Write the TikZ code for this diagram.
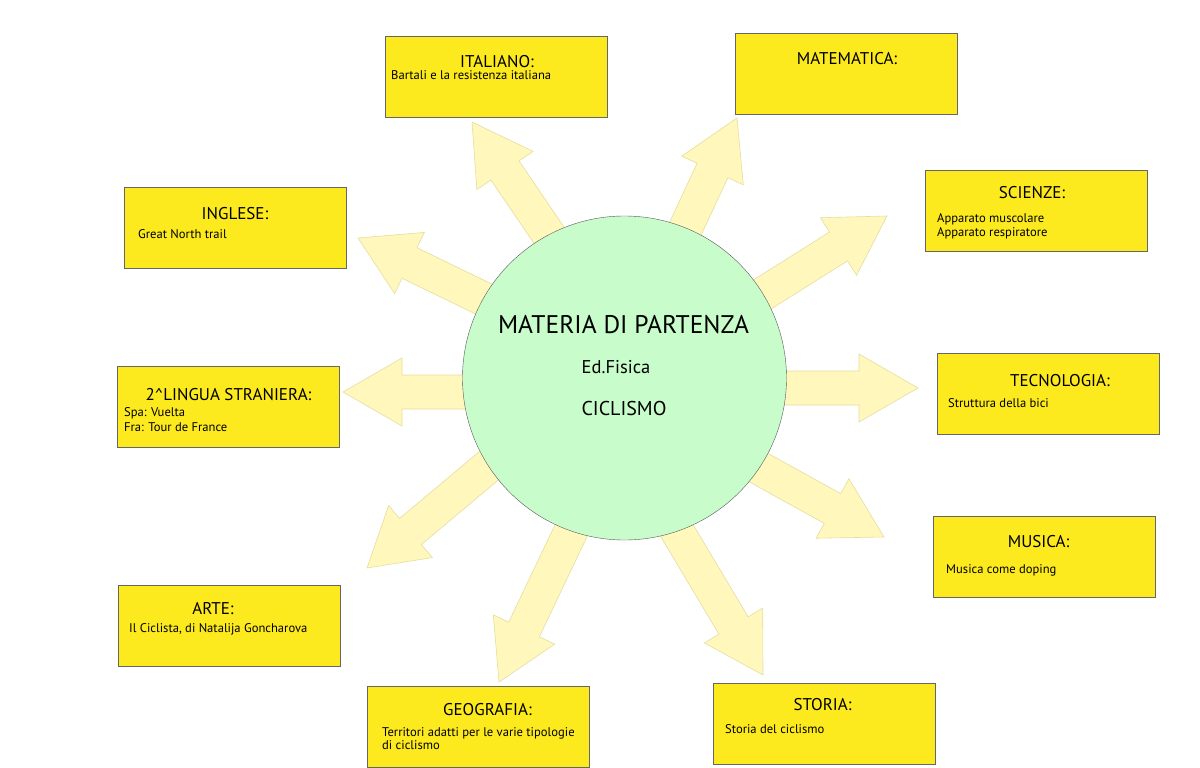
\documentclass[tikz,border=0pt]{standalone}
\usepackage{fontspec}
\setmainfont{PT Sans}
\usetikzlibrary{calc}
\definecolor{boxyellow}{RGB}{252,234,30}
\definecolor{rayfill}{RGB}{255,247,188}
\definecolor{rayline}{RGB}{228,222,160}
\definecolor{centregreen}{RGB}{200,252,202}
\tikzset{
  subjbox/.style={draw=black!60, fill=boxyellow, minimum width=222pt, minimum height=81pt, inner sep=0pt},
  subjtitle/.style={anchor=base, font=\fontsize{17}{17}\selectfont, inner sep=0pt, text depth=0pt},
  subjtext/.style={anchor=base west, font=\fontsize{12.6}{12.6}\selectfont, inner sep=0pt},
  ray/.style={fill=rayfill, draw=rayline, line width=0.6pt, line join=miter}
}
\begin{document}
\begin{tikzpicture}[x=1pt,y=-1pt]
    \useasboundingbox (0,0) rectangle (1200,768);
    % block arrows: tip x/y, head base x/y
    \foreach \tx/\ty/\bx/\by in {472/122/505/170.5, 737/118/712.5/170.5, 887/216/838.5/246.5,
        918/388/859/388, 884/537/832.5/508.5, 763/675/733.5/625.5, 499/682/524/629.5,
        367/568/410.5/531.5, 343/392/402/392, 358/238/409.5/263} {
      \coordinate (tip) at (\tx,\ty);
      \coordinate (hb) at (\bx,\by);
      \coordinate (st) at ($(hb)!-200pt!(tip)$);
      \draw[ray] ($(st)!17pt!90:(tip)$) -- ($(hb)!17pt!90:(tip)$) -- ($(hb)!34pt!90:(tip)$)
        -- (tip) -- ($(hb)!34pt!-90:(tip)$) -- ($(hb)!17pt!-90:(tip)$) -- ($(st)!17pt!-90:(tip)$) -- cycle;
    }
    % centre
    \node[circle, draw=black!65, fill=centregreen, minimum size=324pt, inner sep=0pt] (centre) at (624.5,378) {};
    \node[anchor=base, font=\fontsize{25.5}{25.5}\selectfont] (mat0) at (623.5,333) {MATERIA DI PARTENZA};
    \node[anchor=base, font=\fontsize{18.5}{18.5}\selectfont] (edf) at (616,373) {Ed.Fisica};
    \node[anchor=base, font=\fontsize{20}{20}\selectfont] (cic) at (624,415) {CICLISMO};
    % subjects
    \node[subjbox] (ita) at (496,77) {};
    \node[subjtitle] (itaT) at (497,67) {ITALIANO:};
    \node[subjtext] (itaA) at (391,80) {Bartali e la resistenza italiana};
    \node[subjbox] (mat) at (846.5,73.5) {};
    \node[subjtitle] (matT) at (847,65) {MATEMATICA:};
    \node[subjbox] (ing) at (235,227.5) {};
    \node[subjtitle] (ingT) at (235,219) {INGLESE:};
    \node[subjtext] (ingA) at (138,238) {Great North trail};
    \node[subjbox] (lin) at (228,407) {};
    \node[subjtitle] (linT) at (228.5,400) {2\textasciicircum LINGUA STRANIERA:};
    \node[subjtext] (linA) at (124,416) {Spa: Vuelta};
    \node[subjtext] (linB) at (124,431) {Fra: Tour de France};
    \node[subjbox] (sci) at (1036.5,211) {};
    \node[subjtitle] (sciT) at (1032,198) {SCIENZE:};
    \node[subjtext] (sciA) at (937,222) {Apparato muscolare};
    \node[subjtext] (sciB) at (937,236) {Apparato respiratore};
    \node[subjbox] (tec) at (1048,393.5) {};
    \node[subjtitle] (tecT) at (1060,386) {TECNOLOGIA:};
    \node[subjtext] (tecA) at (948,407) {Struttura della bici};
    \node[subjbox] (art) at (229,625.5) {};
    \node[subjtitle] (artT) at (213,614) {ARTE:};
    \node[subjtext] (artA) at (129,632) {Il Ciclista, di Natalija Goncharova};
    \node[subjbox] (geo) at (478.5,726.5) {};
    \node[subjtitle] (geoT) at (487.5,715) {GEOGRAFIA:};
    \node[subjtext] (geoA) at (382,736) {Territori adatti per le varie tipologie};
    \node[subjtext] (geoB) at (382,749) {di ciclismo};
    \node[subjbox] (mus) at (1044,557) {};
    \node[subjtitle] (musT) at (1038.5,547) {MUSICA:};
    \node[subjtext] (musA) at (946,573) {Musica come doping};
    \node[subjbox] (sto) at (824,723.5) {};
    \node[subjtitle] (stoT) at (822.5,710) {STORIA:};
    \node[subjtext] (stoA) at (725,733) {Storia del ciclismo};
\end{tikzpicture}
\end{document}
